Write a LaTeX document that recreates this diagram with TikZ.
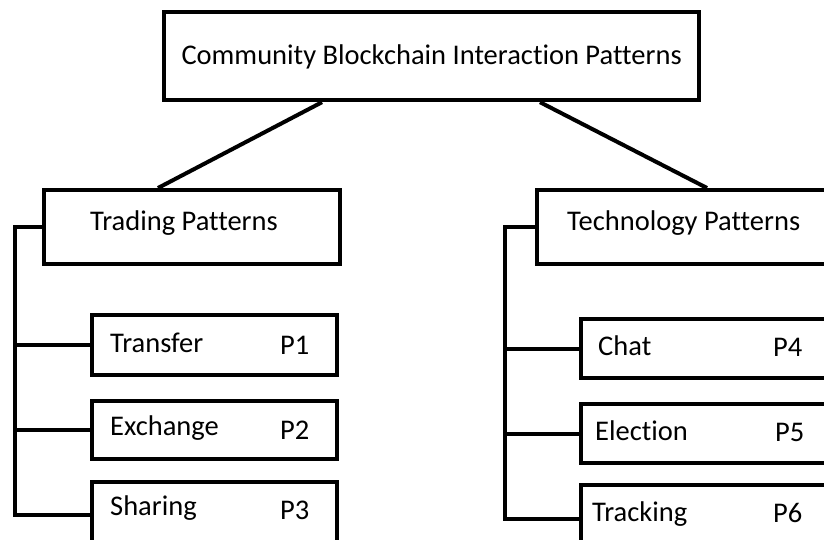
\documentclass[tikz,border=0pt]{standalone}
\usepackage{fontspec}
\setmainfont[RawFeature=-liga]{Carlito}
\begin{document}
\begin{tikzpicture}[x=1pt,y=-1pt,
  box/.style={draw=black,line width=4.2pt,rectangle,inner sep=0pt,anchor=north west},
  link/.style={draw=black,line width=4pt},
  lbl/.style={font=\fontsize{28.5}{32}\selectfont,inner sep=0pt,anchor=west,text=black}]
\useasboundingbox (0,0) rectangle (824,540);
\clip (0,0) rectangle (824,540);
% root
\node[box,minimum width=535pt,minimum height=88pt] (root) at (162,10) {};
\node[lbl,anchor=center] (roottxt) at ([yshift=-1pt]root.center) {Community Blockchain Interaction Patterns};
% two groups
\node[box,minimum width=296pt,minimum height=74pt] (trade) at (42,188) {};
\node[lbl] (tradetxt) at (90,223) {Trading Patterns};
\node[box,minimum width=330pt,minimum height=74pt] (tech) at (535,188) {};
\node[lbl] (techtxt) at (567,223) {Technology Patterns};
% trading items
\node[box,minimum width=245pt,minimum height=60pt] (p1) at (90,313) {};
\node[lbl] (p1a) at (110,343) {Transfer};
\node[lbl] (p1b) at (280,345) {P1};
\node[box,minimum width=245pt,minimum height=58pt] (p2) at (90,399) {};
\node[lbl] (p2a) at (110,428) {Exchange};
\node[lbl] (p2b) at (280,430) {P2};
\node[box,minimum width=245pt,minimum height=66pt] (p3) at (90,480) {};
\node[lbl] (p3a) at (110,508) {Sharing};
\node[lbl] (p3b) at (280,510) {P3};
% technology items
\node[box,minimum width=290pt,minimum height=59pt] (p4) at (579,317) {};
\node[lbl] (p4a) at (598,346) {Chat};
\node[lbl] (p4b) at (773,347) {P4};
\node[box,minimum width=290pt,minimum height=59pt] (p5) at (579,402) {};
\node[lbl] (p5a) at (595,431) {Election};
\node[lbl] (p5b) at (775,432) {P5};
\node[box,minimum width=290pt,minimum height=68pt] (p6) at (579,483) {};
\node[lbl] (p6a) at (592,514) {Tracking};
\node[lbl] (p6b) at (773,513) {P6};
% tree links
\draw[link] ([xshift=160pt]root.south west) -- ([xshift=116pt]trade.north west);
\draw[link] ([xshift=378pt]root.south west) -- ([xshift=172pt]tech.north west);
% brackets
\draw[link] (trade.west) -- ++(-27,0) |- (p3.west);
\draw[link] (trade.west) ++(-27,0) |- (p1.west);
\draw[link] (trade.west) ++(-27,0) |- (p2.west);
\draw[link] (tech.west) -- ++(-30,0) |- (p6.west);
\draw[link] (tech.west) ++(-30,0) |- (p4.west);
\draw[link] (tech.west) ++(-30,0) |- (p5.west);
\end{tikzpicture}
\end{document}
